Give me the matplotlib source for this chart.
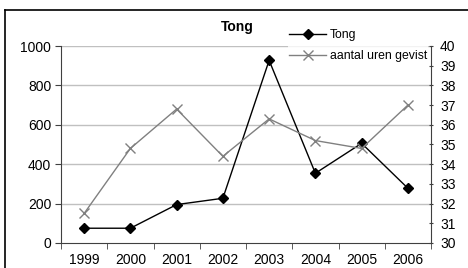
import matplotlib
matplotlib.use("Agg")
import matplotlib.pyplot as plt
from matplotlib import font_manager
from matplotlib.lines import Line2D

years = ["1999", "2000", "2001", "2002", "2003", "2004", "2005", "2006"]
tong = [75, 75, 195, 227, 927, 354, 506, 278]
uren = [31.5, 34.8, 36.8, 34.4, 36.3, 35.2, 34.8, 37.0]
left_ticks = [0, 200, 400, 600, 800, 1000]
right_ticks = list(range(30, 41))

names = {f.name for f in font_manager.fontManager.ttflist}
fam = [n for n in ["Liberation Sans Narrow", "Liberation Sans", "DejaVu Sans"] if n in names]
plt.rcParams['font.family'] = fam

fig = plt.figure(figsize=(4.68, 2.68), dpi=100)
W, H = 468, 268
ax = fig.add_axes([61 / W, 1 - 243 / H, (431 - 61) / W, (243 - 46) / H])
ax2 = ax.twinx()

x = list(range(len(years)))
ax.plot(x, tong, color="black", lw=1, marker="D", ms=5.5, label="Tong", zorder=3)
ax2.plot(x, uren, color="#808080", lw=1, marker="x", ms=7, mew=1, label="aantal uren gevist", zorder=3)

fs = 10
ax.set_xlim(-0.5, 7.5)
ax.set_ylim(0, 1000)
ax2.set_ylim(30, 40)
ax.set_yticks(left_ticks)
ax2.set_yticks(right_ticks)
ax.set_xticks(x)
ax.set_xticklabels(years)
ax.set_xticks([i - 0.5 for i in range(9)], minor=True)
ax.tick_params(axis="x", which="major", length=0, labelsize=fs, pad=7.5)
ax.tick_params(axis="x", which="minor", length=4, direction="out", color="#404040")
ax.tick_params(axis="y", length=4, direction="out", labelsize=fs, color="#404040", pad=3)
ax2.tick_params(axis="y", length=3, direction="inout", labelsize=fs, color="#404040", pad=5)

for a in (ax, ax2):
    for s in ("top", "right", "left", "bottom"):
        a.spines[s].set_visible(False)
ax.spines["left"].set_visible(True)
ax.spines["bottom"].set_visible(True)
ax.spines["left"].set_color("#404040")
ax.spines["bottom"].set_color("#404040")
ax2.spines["right"].set_visible(True)
ax2.spines["right"].set_color("#404040")

for v in left_ticks[1:]:
    ax.axhline(v, color="#c0c0c0", lw=1, zorder=1)

fig.text(237 / W, 1 - 27 / H, "Tong", fontsize=fs, fontweight="bold", ha="center", va="center")

lfs = 8.8
handles = [Line2D([], [], color="black", lw=1, marker="D", ms=5.5),
           Line2D([], [], color="#808080", lw=1, marker="x", ms=7)]
leg = fig.legend(handles, ["Tong", "aantal uren gevist"], loc="upper left",
                 bbox_to_anchor=(288 / W, 1 - 28 / H), frameon=True, fontsize=lfs,
                 handlelength=3.0, handletextpad=0.3, labelspacing=0.75,
                 borderpad=0.1, borderaxespad=0)
leg.get_frame().set_edgecolor("none")
leg.get_frame().set_facecolor("white")

# outer chart border (top and left visible)
fig.add_artist(Line2D([5 / W, 5 / W], [0, 1 - 10 / H], color="black", lw=1.2, transform=fig.transFigure))
fig.add_artist(Line2D([5 / W, 1], [1 - 10 / H, 1 - 10 / H], color="black", lw=1.2, transform=fig.transFigure))

fig.savefig("out.png", dpi=100)
